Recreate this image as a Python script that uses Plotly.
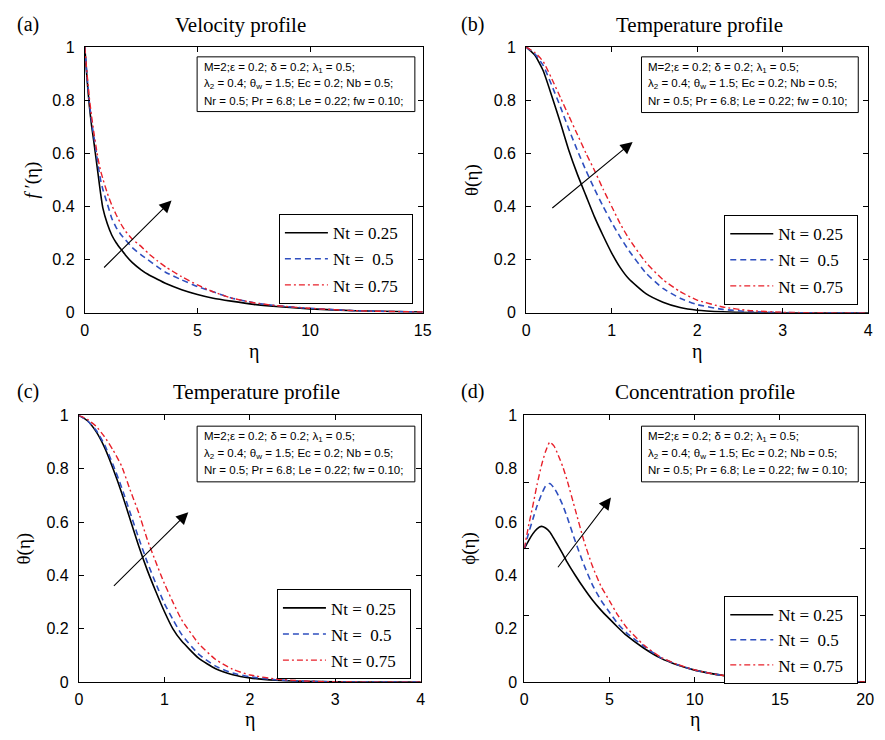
import plotly.graph_objects as go

W, H = 885, 740

# ---------------- data ----------------
nt_labels = ["Nt = 0.25\u00a0\u00a0", "Nt =\u00a0 0.5", "Nt = 0.75"]

# (a) velocity f'(eta)
eta_a = [0, 0.1, 0.2, 0.3, 0.4, 0.5, 0.6, 0.7, 0.8, 1.0, 1.2, 1.4, 1.6, 1.8, 2.1, 2.5, 2.8, 3.2, 3.6, 4.3, 5, 5.7, 6.5, 7.5, 8.5, 10, 12, 15]
fp_nt025 = [1, 0.88, 0.78, 0.705, 0.645, 0.58, 0.515, 0.45, 0.395, 0.335, 0.292, 0.263, 0.24, 0.218, 0.19, 0.162, 0.145, 0.127, 0.11, 0.087, 0.069, 0.055, 0.044, 0.032, 0.024, 0.015, 0.008, 0.003]
fp_nt050 = [1, 0.89, 0.795, 0.72, 0.665, 0.61, 0.55, 0.50, 0.465, 0.41, 0.355, 0.32, 0.295, 0.275, 0.246, 0.218, 0.20, 0.175, 0.152, 0.124, 0.099, 0.079, 0.056, 0.038, 0.027, 0.017, 0.008, 0.003]
fp_nt075 = [1, 0.90, 0.81, 0.74, 0.68, 0.625, 0.575, 0.535, 0.505, 0.45, 0.405, 0.368, 0.335, 0.308, 0.278, 0.25, 0.225, 0.197, 0.172, 0.136, 0.105, 0.079, 0.056, 0.038, 0.027, 0.017, 0.008, 0.003]

# (b) temperature theta(eta)
eta_b = [0, 0.1, 0.2, 0.3, 0.4, 0.5, 0.6, 0.7, 0.8, 0.9, 1.0, 1.1, 1.2, 1.4, 1.6, 1.8, 2.0, 2.3, 2.6, 3.0, 3.5, 4.0]
thb_nt025 = [1, 0.97, 0.91, 0.815, 0.715, 0.61, 0.52, 0.44, 0.36, 0.29, 0.225, 0.17, 0.128, 0.072, 0.04, 0.02, 0.01, 0.004, 0.001, 0, 0, 0]
thb_nt050 = [1, 0.975, 0.93, 0.855, 0.775, 0.69, 0.61, 0.535, 0.465, 0.40, 0.34, 0.285, 0.235, 0.15, 0.092, 0.055, 0.031, 0.013, 0.005, 0.001, 0, 0]
thb_nt075 = [1, 0.98, 0.945, 0.88, 0.81, 0.74, 0.67, 0.60, 0.535, 0.465, 0.40, 0.335, 0.28, 0.19, 0.125, 0.08, 0.048, 0.022, 0.009, 0.002, 0, 0]

# (c) temperature theta(eta)
eta_c = [0, 0.1, 0.2, 0.3, 0.4, 0.5, 0.6, 0.7, 0.8, 0.9, 1.0, 1.1, 1.2, 1.4, 1.6, 1.8, 2.0, 2.3, 2.6, 3.0, 3.5, 4.0]
thc_nt025 = [1, 0.98, 0.94, 0.88, 0.80, 0.71, 0.61, 0.51, 0.42, 0.34, 0.265, 0.20, 0.155, 0.09, 0.05, 0.028, 0.016, 0.007, 0.003, 0.001, 0, 0]
thc_nt050 = [1, 0.98, 0.945, 0.89, 0.815, 0.73, 0.635, 0.54, 0.45, 0.37, 0.295, 0.235, 0.18, 0.105, 0.06, 0.034, 0.02, 0.009, 0.004, 0.001, 0, 0]
thc_nt075 = [1, 0.985, 0.96, 0.92, 0.87, 0.81, 0.72, 0.635, 0.535, 0.45, 0.37, 0.30, 0.235, 0.145, 0.085, 0.048, 0.027, 0.012, 0.005, 0.001, 0, 0]

# (d) concentration phi(eta)
eta_d = [0, 0.25, 0.5, 0.75, 1.0, 1.25, 1.5, 1.75, 2, 2.25, 2.5, 3, 3.5, 4, 4.5, 5, 5.5, 6, 7, 8, 9, 10, 11, 12, 14, 16, 18, 20]
phi_nt025 = [0.5, 0.53, 0.556, 0.575, 0.584, 0.578, 0.563, 0.537, 0.51, 0.482, 0.452, 0.40, 0.352, 0.308, 0.27, 0.237, 0.205, 0.175, 0.128, 0.09, 0.064, 0.045, 0.032, 0.022, 0.011, 0.005, 0.002, 0.001]
phi_nt050 = [0.5, 0.557, 0.61, 0.66, 0.702, 0.735, 0.745, 0.728, 0.70, 0.665, 0.622, 0.527, 0.44, 0.365, 0.307, 0.262, 0.218, 0.185, 0.135, 0.092, 0.065, 0.045, 0.032, 0.022, 0.011, 0.005, 0.002, 0.001]
phi_nt075 = [0.5, 0.585, 0.66, 0.74, 0.81, 0.865, 0.90, 0.885, 0.85, 0.81, 0.76, 0.645, 0.53, 0.435, 0.36, 0.305, 0.25, 0.205, 0.14, 0.094, 0.066, 0.046, 0.032, 0.022, 0.011, 0.005, 0.002, 0.001]

y_labels = [0, 0.2, 0.4, 0.6, 0.8, 1]
d_tick_marks = [0, 0.25, 0.5, 0.75, 1]

# ---------------- styling ----------------
SERIF = "Liberation Serif, Times New Roman, serif"
SANS = "Liberation Sans, Arial, sans-serif"
styles = [
    dict(color="#000000", width=1.6, dash="solid"),
    dict(color="#2f4fbf", width=1.6, dash="6px,4px"),
    dict(color="#e8202a", width=1.4, dash="6px,3px,2px,3px"),
]


def px(xp):
    return xp / W


def py(yp):
    return 1 - yp / H


# panel geometry in pixels: plot left, right, top, bottom
panels = [
    dict(ax="", box=(82, 425, 40, 312), xr=[0, 15], xt=[0, 5, 10, 15], eta=eta_a,
         ys=[fp_nt025, fp_nt050, fp_nt075], title="Velocity profile", tag="(a)",
         ylab="<i>f</i> \u2032(\u03b7)", leg="legend", legtop=(415, 211), gap=1,
         pbox=(196, 417, 50, 106), arrow=(0.79, 0.165, 3.85, 0.423), title_xy=(240, 17), tag_xy=(24, 17),
         ylab_x=28, xlab_y=352),
    dict(ax="2", box=(530, 877, 40, 312), xr=[0, 4], xt=[0, 1, 2, 3, 4], eta=eta_b,
         ys=[thb_nt025, thb_nt050, thb_nt075], title="Temperature profile", tag="(b)",
         ylab="\u03b8(\u03b7)", leg="legend2", legtop=(867, 212), gap=1,
         pbox=(647, 867, 50, 107), arrow=(0.288, 0.39, 1.245, 0.643), title_xy=(706, 17), tag_xy=(475, 17),
         ylab_x=475, xlab_y=352),
    dict(ax="3", box=(76, 423, 417, 690), xr=[0, 4], xt=[0, 1, 2, 3, 4], eta=eta_c,
         ys=[thc_nt025, thc_nt050, thc_nt075], title="Temperature profile", tag="(c)",
         ylab="\u03b8(\u03b7)", leg="legend3", legtop=(413, 595), gap=1,
         pbox=(196, 417, 428, 485), arrow=(0.392, 0.355, 1.28, 0.637), title_xy=(256, 393), tag_xy=(24, 393),
         ylab_x=20, xlab_y=728),
    dict(ax="4", box=(528, 874, 417, 690), xr=[0, 20], xt=[0, 5, 10, 15, 20], eta=eta_d,
         ys=[phi_nt025, phi_nt050, phi_nt075], title="Concentration profile", tag="(d)",
         ylab="\u03d5(\u03b7)", leg="legend4", legtop=(867, 602), gap=0,
         pbox=(647, 867, 428, 485), arrow=(1.91, 0.425, 5.09, 0.692), title_xy=(711, 393), tag_xy=(475, 393),
         ylab_x=472, xlab_y=728),
]

param_lines = [
    "M=2;\u03b5 = 0.2; \u03b4 = 0.2; \u03bb<sub>1</sub> = 0.5;",
    "\u03bb<sub>2</sub> = 0.4; \u03b8<sub>w</sub> = 1.5; Ec = 0.2; Nb = 0.5;",
    "Nr = 0.5; Pr = 6.8; Le = 0.22; fw = 0.10;",
]

fig = go.Figure()
annotations = []
shapes = []
layout = {}


def label(x, y, text, size, family=SERIF, **kw):
    d = dict(x=x, y=y, xref="paper", yref="paper", text=text, showarrow=False,
             xanchor="center", yanchor="middle", font=dict(family=family, size=size, color="black"))
    d.update(kw)
    annotations.append(d)


axis_common = dict(
    showline=True, linecolor="black", linewidth=1, mirror="ticks",
    ticks="inside", ticklen=5, tickcolor="black", showgrid=False, zeroline=False,
    tickfont=dict(family=SANS, size=16, color="black"),
)

for p in panels:
    xa = "x" + p["ax"]
    ya = "y" + p["ax"]
    l, r, t, b = p["box"]
    for i, (yv, st) in enumerate(zip(p["ys"], styles)):
        fig.add_trace(go.Scatter(
            x=p["eta"], y=yv, mode="lines", name=nt_labels[i],
            line=dict(color=st["color"], width=st["width"], dash=st["dash"], shape="spline", smoothing=0.5),
            xaxis=xa, yaxis=ya, legend=p["leg"], legendgroup=p["leg"] + str(i),
        ))
    layout["xaxis" + p["ax"]] = dict(axis_common, domain=[px(l), px(r)], range=p["xr"],
                                     tickvals=p["xt"], anchor=ya, ticklabelstandoff=3)
    layout["yaxis" + p["ax"]] = dict(axis_common, domain=[py(b), py(t)], range=[0, 1],
                                     tickvals=y_labels, anchor=xa, ticklabelstandoff=6)
    lx, ly = p["legtop"]
    layout[p["leg"]] = dict(
        x=px(lx), y=py(ly), xanchor="right", yanchor="top", xref="paper", yref="paper",
        bgcolor="white", bordercolor="black", borderwidth=1, itemwidth=43,
        font=dict(family=SERIF, size=17, color="black"), tracegroupgap=p["gap"],
    )
    # titles and labels
    label(px(p["title_xy"][0]), py(p["title_xy"][1]), p["title"], 21)
    label(px(p["tag_xy"][0]), py(p["tag_xy"][1]), p["tag"], 20)
    label(px((l + r) / 2), py(p["xlab_y"]), "\u03b7", 20)
    label(px(p["ylab_x"]), py((t + b) / 2), p["ylab"], 19, textangle=-90)
    # parameter box
    bl, br, bt, bb = p["pbox"]
    shapes.append(dict(type="rect", xref="paper", yref="paper", x0=px(bl), x1=px(br), y0=py(bb), y1=py(bt),
                       line=dict(color="black", width=1), fillcolor="white", layer="above"))
    for k, txt in enumerate(param_lines):
        label(px(bl + 5), py(bt + 11 + 17 * k), txt, 11.5, family=SANS, xanchor="left")
    # trend arrow
    x0, y0, x1, y1 = p["arrow"]
    annotations.append(dict(x=x1, y=y1, ax=x0, ay=y0, xref=xa, yref=ya, axref=xa, ayref=ya,
                            text="", showarrow=True, arrowhead=2, arrowsize=2.2, arrowwidth=1.1,
                            arrowcolor="black"))

# panel (d): tick marks every 0.25, labels every 0.2 on an overlaid axis
layout["yaxis4"].update(tickvals=d_tick_marks, showticklabels=False)
layout["yaxis5"] = dict(overlaying="y4", anchor="x4", range=[0, 1], tickvals=y_labels,
                        ticks="", showline=False, showgrid=False, zeroline=False,
                        tickfont=dict(family=SANS, size=16, color="black"), ticklabelstandoff=6)
fig.add_trace(go.Scatter(x=[None], y=[None], xaxis="x4", yaxis="y5", showlegend=False,
                         hoverinfo="skip", mode="lines"))

fig.update_layout(
    width=W, height=H, margin=dict(l=0, r=0, t=0, b=0),
    paper_bgcolor="white", plot_bgcolor="white", showlegend=True,
    annotations=annotations, shapes=shapes, **layout,
)

# keep the fixed-size figure flush with the page edges
fig.write_html(
    "out.html",
    post_script="document.body.style.margin='0';document.body.style.overflow='hidden';",
)
